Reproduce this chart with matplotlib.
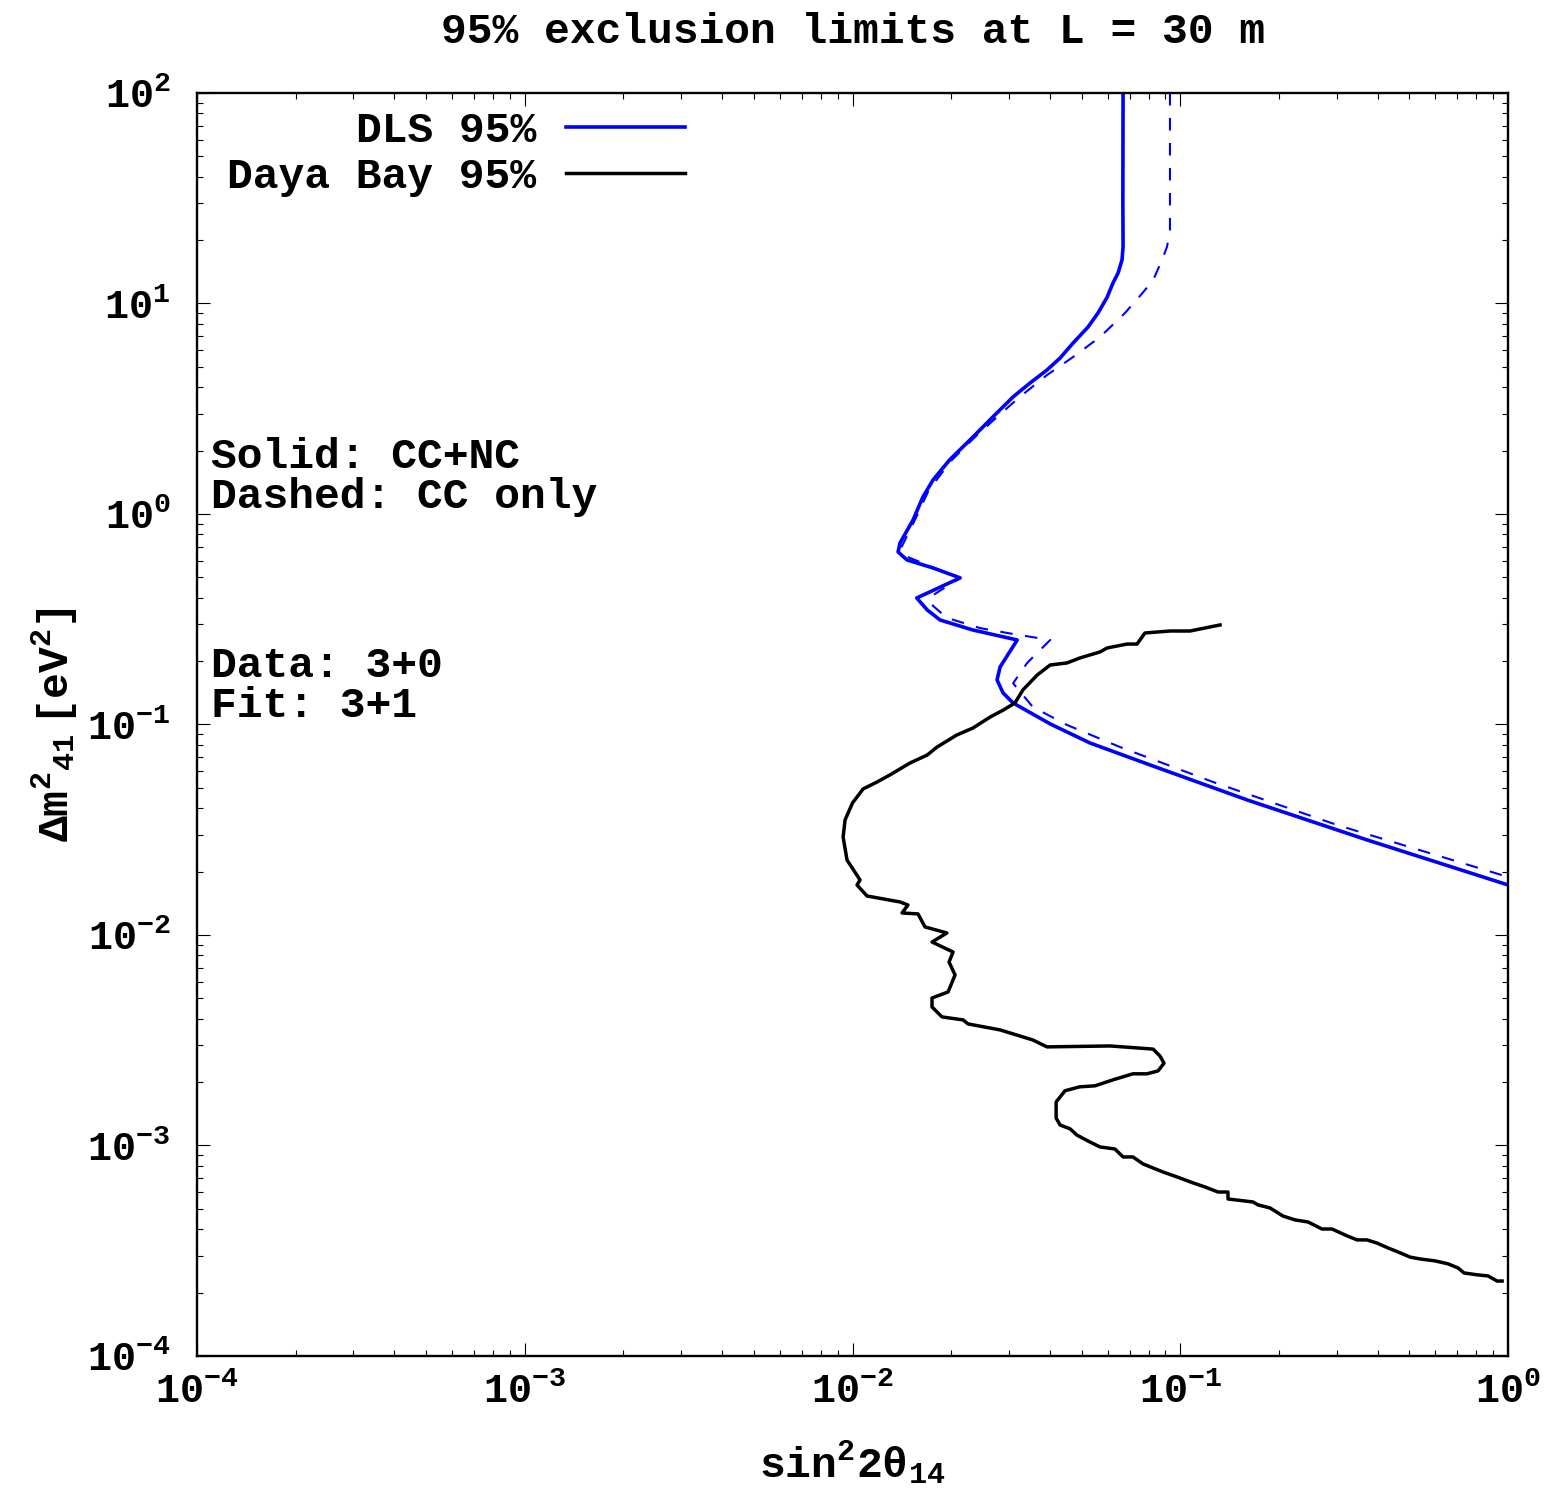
import numpy as np
import matplotlib
matplotlib.use("Agg")
import matplotlib.pyplot as plt
from matplotlib.ticker import LogLocator, NullFormatter

# monospace bold everywhere, maths included
plt.rcParams['font.family'] = ['Liberation Mono', 'DejaVu Sans']
plt.rcParams['font.weight'] = 'bold'
plt.rcParams['mathtext.fontset'] = 'custom'
for key in ['rm', 'it', 'bf', 'sf', 'tt']:
    plt.rcParams['mathtext.' + key] = 'Liberation Mono:bold'
plt.rcParams['mathtext.default'] = 'rm'

# DLS 95% limit, CC+NC (solid)
dls_x = [0.0669, 0.0668, 0.0669, 0.0664, 0.0646, 0.0623, 0.0598, 0.0561, 0.0523, 0.0471,
         0.0430, 0.0392, 0.0348, 0.0309, 0.0268, 0.0233, 0.0198, 0.0176, 0.0164, 0.0153,
         0.01396, 0.01377, 0.01466, 0.0176, 0.0213, 0.0157,
         0.0169, 0.0185, 0.0233, 0.0318, 0.0282, 0.0276, 0.0288, 0.0309, 0.0401,
         0.0530, 0.0809, 0.160, 0.371, 1.0]
dls_y = [100, 31.0, 18.6, 16.1, 13.96, 12.5, 10.7, 9.01, 7.73, 6.49,
         5.51, 4.83, 4.19, 3.60, 2.89, 2.32, 1.81, 1.45, 1.205, 0.937,
         0.728, 0.660, 0.605, 0.554, 0.497, 0.399,
         0.350, 0.3135, 0.281, 0.252, 0.1876, 0.1627, 0.1411, 0.1265, 0.1006,
         0.0817, 0.0642, 0.0438, 0.0283, 0.01728]

# DLS 95% limit, CC only (dashed)
dls_cc_x = [0.0930, 0.0930, 0.0911, 0.0880, 0.0826, 0.0770, 0.0678, 0.0569, 0.0471, 0.0392,
            0.0324, 0.0276, 0.0235, 0.0200, 0.0171, 0.0155, 0.01406, 0.01446, 0.0178, 0.0213,
            0.01724, 0.0176, 0.0194, 0.0245, 0.0309, 0.0401, 0.0341, 0.0309, 0.0355,
            0.0451, 0.0655, 0.1259, 0.301, 1.0]
dls_cc_y = [100, 22.3, 18.6, 16.1, 12.9, 11.3, 9.01, 6.93, 5.57, 4.57,
            3.60, 2.89, 2.30, 1.79, 1.30, 0.937, 0.689, 0.632, 0.554, 0.497,
            0.403, 0.366, 0.321, 0.287, 0.269, 0.252, 0.196, 0.157, 0.121,
            0.0995, 0.0781, 0.0533, 0.0333, 0.01886]

# Daya Bay 95% limit
db_x = [0.1322, 0.1071, 0.0930, 0.0780, 0.0738, 0.0688, 0.0598, 0.0569, 0.0494, 0.0451,
        0.0401, 0.0366, 0.0331, 0.0313, 0.0288, 0.0263, 0.0233, 0.0208, 0.0181, 0.0169,
        0.01497, 0.01301, 0.01188, 0.01077, 0.01000, 0.00949, 0.00936, 0.00962, 0.01054, 0.01032,
        0.01107, 0.01396, 0.01476, 0.01416, 0.01584, 0.01664, 0.0194, 0.01748, 0.02026, 0.0197,
        0.02055, 0.01956, 0.01748, 0.01748, 0.01875, 0.02174, 0.02251, 0.0282, 0.0355, 0.0392,
        0.0611, 0.0826, 0.0867, 0.0892, 0.0855, 0.0791, 0.0717, 0.0623, 0.0549, 0.0494,
        0.0445, 0.0418, 0.0418, 0.0430, 0.0461, 0.0484, 0.0523, 0.0569, 0.0632, 0.0669,
        0.0717, 0.0770, 0.0886, 0.0977, 0.1094, 0.119, 0.1304, 0.1398, 0.1398, 0.1667,
        0.1726, 0.1878, 0.2058, 0.2239, 0.2454, 0.2707, 0.2904, 0.3227, 0.3462, 0.371,
        0.398, 0.4303, 0.4618, 0.5023, 0.5388, 0.5987, 0.6559, 0.7036, 0.7338, 0.8041,
        0.869, 0.9256, 0.959]
db_y = [0.297, 0.278, 0.278, 0.272, 0.241, 0.241, 0.2309, 0.2211, 0.207, 0.196,
        0.1917, 0.1718, 0.1459, 0.1265, 0.117, 0.1085, 0.0962, 0.0891, 0.0781, 0.0716,
        0.0656, 0.0576, 0.0533, 0.0494, 0.0424, 0.0352, 0.0292, 0.0227, 0.01826, 0.01728,
        0.01532, 0.01435, 0.01388, 0.01272, 0.01259, 0.01092, 0.01022, 0.00926, 0.00830, 0.00744,
        0.00646, 0.00536, 0.00502, 0.00455, 0.00408, 0.00395, 0.00378, 0.00354, 0.00317, 0.00294,
        0.00297, 0.00287, 0.00266, 0.00246, 0.00226, 0.00219, 0.00219, 0.00205, 0.00192, 0.00190,
        0.00182, 0.00161, 0.00135, 0.00125, 0.00120, 0.00112, 0.00105, 0.000984, 0.000962, 0.000882,
        0.000882, 0.000817, 0.000748, 0.000709, 0.000664, 0.000635, 0.000601, 0.000601, 0.000557, 0.000539,
        0.000522, 0.000505, 0.000462, 0.000443, 0.000433, 0.000401, 0.000401, 0.000372, 0.000356, 0.000356,
        0.000344, 0.000326, 0.000312, 0.000295, 0.000289, 0.000283, 0.000274, 0.000262, 0.000248, 0.000243,
        0.000240, 0.000227, 0.000227]

fig = plt.figure(figsize=(15.66, 14.97), dpi=100)
ax = fig.add_axes([0.1258, 0.0942, 0.8372, 0.8437])

ax.plot(dls_x, dls_y, color='blue', lw=2.6, label='DLS 95%', solid_joinstyle='round')
ax.plot(db_x, db_y, color='black', lw=2.5, label='Daya Bay 95%')
ax.plot(dls_cc_x, dls_cc_y, color='blue', lw=1.5, dashes=(6, 6))

ax.set_xscale('log')
ax.set_yscale('log')
ax.set_xlim(1e-4, 1)
ax.set_ylim(1e-4, 1e2)

ax.xaxis.set_major_locator(LogLocator(base=10, numticks=10))
ax.yaxis.set_major_locator(LogLocator(base=10, numticks=10))
ax.xaxis.set_minor_locator(LogLocator(base=10, subs=np.arange(2, 10), numticks=20))
ax.yaxis.set_minor_locator(LogLocator(base=10, subs=np.arange(2, 10), numticks=20))
ax.xaxis.set_minor_formatter(NullFormatter())
ax.yaxis.set_minor_formatter(NullFormatter())

ax.tick_params(which='both', direction='in', top=True, right=True, width=0.8, labelsize=29)
ax.tick_params(which='major', length=9.4)
ax.tick_params(which='minor', length=4.3)
ax.tick_params(axis='x', which='major', pad=12)
ax.tick_params(axis='y', which='major', pad=19)
for s in ax.spines.values():
    s.set_linewidth(1.7)

ax.set_title('95% exclusion limits at L = 30 m', fontsize=31, fontweight='bold', pad=36)
ax.set_xlabel(r'$sin^2 2\theta_{14}$', fontsize=31)
ax.set_ylabel(r'$\Delta m^2{}_{41}\ [eV^2]$', fontsize=31)
ax.xaxis.set_label_coords(0.5, -0.066)
ax.yaxis.set_label_coords(-0.089, 0.5)

ax.legend(loc='upper right', bbox_to_anchor=(0.372, 0.986), frameon=False,
          markerfirst=False, fontsize=31, handlelength=2.75, handletextpad=0.7,
          labelspacing=0.14, borderpad=0, borderaxespad=0)

ax.text(0.011, 0.728, 'Solid: CC+NC\nDashed: CC only', transform=ax.transAxes,
        fontsize=31, va='top', ha='left', linespacing=1.0)
ax.text(0.011, 0.562, 'Data: 3+0\nFit: 3+1', transform=ax.transAxes,
        fontsize=31, va='top', ha='left', linespacing=1.0)

fig.savefig('out.png', dpi=100)
